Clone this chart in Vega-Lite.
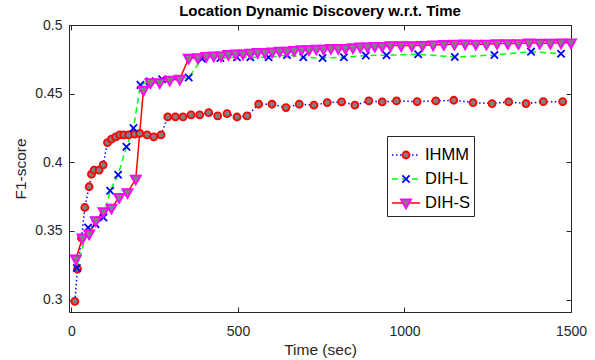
{
  "$schema": "https://vega.github.io/schema/vega-lite/v6.json",
  "width": 502,
  "height": 287,
  "autosize": {"type": "none"},
  "padding": {"left": 69, "top": 25, "right": 24, "bottom": 48},
  "background": "white",
  "title": {"text": "Location Dynamic Discovery w.r.t. Time", "fontSize": 15, "font": "Liberation Sans", "fontWeight": "bold", "color": "#000000", "anchor": "middle", "frame": "group", "baseline": "bottom", "offset": 1, "dy": 17},
  "config": {
    "view": {"stroke": null},
    "axis": {"domainColor": "#262626", "tickColor": "#262626", "labelColor": "#262626", "titleColor": "#262626", "labelFont": "Liberation Sans", "titleFont": "Liberation Sans", "labelFontSize": 14, "titleFontSize": 15.5, "titleFontWeight": "normal", "grid": false, "tickSize": -5, "domainWidth": 1, "tickWidth": 1, "labelFlush": false, "labelOverlap": false}
  },
  "data": {"values": [
    {"series": "IHMM", "t": 10, "f1": 0.2988}, {"series": "IHMM", "t": 18, "f1": 0.3223}, {"series": "IHMM", "t": 30, "f1": 0.3449}, {"series": "IHMM", "t": 40, "f1": 0.3671}, {"series": "IHMM", "t": 53, "f1": 0.3822}, {"series": "IHMM", "t": 60, "f1": 0.3914}, {"series": "IHMM", "t": 68, "f1": 0.3943}, {"series": "IHMM", "t": 83, "f1": 0.3943}, {"series": "IHMM", "t": 95, "f1": 0.3982}, {"series": "IHMM", "t": 108, "f1": 0.4144}, {"series": "IHMM", "t": 120, "f1": 0.4169}, {"series": "IHMM", "t": 133, "f1": 0.4185}, {"series": "IHMM", "t": 145, "f1": 0.42}, {"series": "IHMM", "t": 157, "f1": 0.42}, {"series": "IHMM", "t": 172, "f1": 0.42}, {"series": "IHMM", "t": 190, "f1": 0.4205}, {"series": "IHMM", "t": 205, "f1": 0.421}, {"series": "IHMM", "t": 227, "f1": 0.42}, {"series": "IHMM", "t": 247, "f1": 0.4185}, {"series": "IHMM", "t": 269, "f1": 0.42}, {"series": "IHMM", "t": 289, "f1": 0.4331}, {"series": "IHMM", "t": 312, "f1": 0.4331}, {"series": "IHMM", "t": 335, "f1": 0.4331}, {"series": "IHMM", "t": 359, "f1": 0.4345}, {"series": "IHMM", "t": 385, "f1": 0.4345}, {"series": "IHMM", "t": 412, "f1": 0.4362}, {"series": "IHMM", "t": 439, "f1": 0.4338}, {"series": "IHMM", "t": 467, "f1": 0.4355}, {"series": "IHMM", "t": 497, "f1": 0.433}, {"series": "IHMM", "t": 527, "f1": 0.4338}, {"series": "IHMM", "t": 562, "f1": 0.4423}, {"series": "IHMM", "t": 602, "f1": 0.4423}, {"series": "IHMM", "t": 644, "f1": 0.4399}, {"series": "IHMM", "t": 684, "f1": 0.4423}, {"series": "IHMM", "t": 728, "f1": 0.4416}, {"series": "IHMM", "t": 768, "f1": 0.4435}, {"series": "IHMM", "t": 811, "f1": 0.444}, {"series": "IHMM", "t": 851, "f1": 0.4416}, {"series": "IHMM", "t": 893, "f1": 0.4447}, {"series": "IHMM", "t": 933, "f1": 0.444}, {"series": "IHMM", "t": 976, "f1": 0.4447}, {"series": "IHMM", "t": 1038, "f1": 0.4442}, {"series": "IHMM", "t": 1094, "f1": 0.4447}, {"series": "IHMM", "t": 1148, "f1": 0.4452}, {"series": "IHMM", "t": 1206, "f1": 0.4435}, {"series": "IHMM", "t": 1263, "f1": 0.4428}, {"series": "IHMM", "t": 1313, "f1": 0.444}, {"series": "IHMM", "t": 1365, "f1": 0.4428}, {"series": "IHMM", "t": 1417, "f1": 0.4442}, {"series": "IHMM", "t": 1475, "f1": 0.4442},
    {"series": "DIH-L", "t": 16, "f1": 0.323}, {"series": "DIH-L", "t": 50, "f1": 0.3525}, {"series": "DIH-L", "t": 72, "f1": 0.355}, {"series": "DIH-L", "t": 96, "f1": 0.3599}, {"series": "DIH-L", "t": 116, "f1": 0.3793}, {"series": "DIH-L", "t": 140, "f1": 0.3909}, {"series": "DIH-L", "t": 165, "f1": 0.4113}, {"series": "DIH-L", "t": 186, "f1": 0.4249}, {"series": "DIH-L", "t": 207, "f1": 0.4564}, {"series": "DIH-L", "t": 235, "f1": 0.459}, {"series": "DIH-L", "t": 272, "f1": 0.4605}, {"series": "DIH-L", "t": 352, "f1": 0.4617}, {"series": "DIH-L", "t": 392, "f1": 0.4755}, {"series": "DIH-L", "t": 447, "f1": 0.476}, {"series": "DIH-L", "t": 497, "f1": 0.4765}, {"series": "DIH-L", "t": 537, "f1": 0.4765}, {"series": "DIH-L", "t": 592, "f1": 0.4765}, {"series": "DIH-L", "t": 647, "f1": 0.4782}, {"series": "DIH-L", "t": 696, "f1": 0.4765}, {"series": "DIH-L", "t": 754, "f1": 0.476}, {"series": "DIH-L", "t": 818, "f1": 0.4765}, {"series": "DIH-L", "t": 884, "f1": 0.4778}, {"series": "DIH-L", "t": 946, "f1": 0.478}, {"series": "DIH-L", "t": 1041, "f1": 0.4787}, {"series": "DIH-L", "t": 1151, "f1": 0.4767}, {"series": "DIH-L", "t": 1270, "f1": 0.4782}, {"series": "DIH-L", "t": 1380, "f1": 0.4806}, {"series": "DIH-L", "t": 1470, "f1": 0.4791},
    {"series": "DIH-S", "t": 13, "f1": 0.3296}, {"series": "DIH-S", "t": 33, "f1": 0.3449}, {"series": "DIH-S", "t": 53, "f1": 0.3478}, {"series": "DIH-S", "t": 73, "f1": 0.3575}, {"series": "DIH-S", "t": 96, "f1": 0.364}, {"series": "DIH-S", "t": 120, "f1": 0.3667}, {"series": "DIH-S", "t": 143, "f1": 0.3744}, {"series": "DIH-S", "t": 168, "f1": 0.378}, {"series": "DIH-S", "t": 193, "f1": 0.3878}, {"series": "DIH-S", "t": 216, "f1": 0.4525}, {"series": "DIH-S", "t": 237, "f1": 0.458}, {"series": "DIH-S", "t": 265, "f1": 0.458}, {"series": "DIH-S", "t": 295, "f1": 0.4598}, {"series": "DIH-S", "t": 325, "f1": 0.4605}, {"series": "DIH-S", "t": 352, "f1": 0.4758}, {"series": "DIH-S", "t": 379, "f1": 0.4762}, {"series": "DIH-S", "t": 405, "f1": 0.4772}, {"series": "DIH-S", "t": 427, "f1": 0.4775}, {"series": "DIH-S", "t": 449, "f1": 0.4775}, {"series": "DIH-S", "t": 471, "f1": 0.4785}, {"series": "DIH-S", "t": 493, "f1": 0.479}, {"series": "DIH-S", "t": 515, "f1": 0.479}, {"series": "DIH-S", "t": 537, "f1": 0.4795}, {"series": "DIH-S", "t": 559, "f1": 0.48}, {"series": "DIH-S", "t": 581, "f1": 0.48}, {"series": "DIH-S", "t": 603, "f1": 0.4805}, {"series": "DIH-S", "t": 625, "f1": 0.481}, {"series": "DIH-S", "t": 647, "f1": 0.481}, {"series": "DIH-S", "t": 669, "f1": 0.4815}, {"series": "DIH-S", "t": 691, "f1": 0.482}, {"series": "DIH-S", "t": 713, "f1": 0.482}, {"series": "DIH-S", "t": 735, "f1": 0.4825}, {"series": "DIH-S", "t": 757, "f1": 0.4825}, {"series": "DIH-S", "t": 779, "f1": 0.483}, {"series": "DIH-S", "t": 801, "f1": 0.483}, {"series": "DIH-S", "t": 823, "f1": 0.483}, {"series": "DIH-S", "t": 845, "f1": 0.4835}, {"series": "DIH-S", "t": 867, "f1": 0.484}, {"series": "DIH-S", "t": 889, "f1": 0.484}, {"series": "DIH-S", "t": 911, "f1": 0.4845}, {"series": "DIH-S", "t": 933, "f1": 0.4845}, {"series": "DIH-S", "t": 958, "f1": 0.485}, {"series": "DIH-S", "t": 990, "f1": 0.485}, {"series": "DIH-S", "t": 1022, "f1": 0.485}, {"series": "DIH-S", "t": 1054, "f1": 0.4852}, {"series": "DIH-S", "t": 1086, "f1": 0.4855}, {"series": "DIH-S", "t": 1118, "f1": 0.4858}, {"series": "DIH-S", "t": 1150, "f1": 0.486}, {"series": "DIH-S", "t": 1182, "f1": 0.4862}, {"series": "DIH-S", "t": 1214, "f1": 0.486}, {"series": "DIH-S", "t": 1246, "f1": 0.486}, {"series": "DIH-S", "t": 1278, "f1": 0.4865}, {"series": "DIH-S", "t": 1310, "f1": 0.4865}, {"series": "DIH-S", "t": 1342, "f1": 0.4865}, {"series": "DIH-S", "t": 1374, "f1": 0.487}, {"series": "DIH-S", "t": 1406, "f1": 0.4868}, {"series": "DIH-S", "t": 1438, "f1": 0.4868}, {"series": "DIH-S", "t": 1470, "f1": 0.487}, {"series": "DIH-S", "t": 1500, "f1": 0.487}
  ]},
  "layer": [
    {
      "mark": {"type": "line", "strokeWidth": 1.5},
      "encoding": {
        "x": {"field": "t", "type": "quantitative", "scale": {"domain": [-7.5, 1500], "nice": false, "zero": false}, "axis": {"orient": "bottom", "values": [0, 500, 1000, 1500], "format": "d", "title": "Time (sec)", "labelPadding": 17.5, "titlePadding": 4}},
        "y": {"field": "f1", "type": "quantitative", "scale": {"domain": [0.291, 0.5], "nice": false, "zero": false}, "axis": {"orient": "left", "values": [0.3, 0.35, 0.4, 0.45, 0.5], "format": "~g", "title": "F1-score", "labelPadding": 12, "titlePadding": 6}},
        "color": {"field": "series", "type": "nominal", "scale": {"domain": ["IHMM", "DIH-L", "DIH-S"], "range": ["#0000ff", "#00ff00", "#ff0000"]},
          "legend": {"orient": "none", "legendX": 318, "legendY": 111, "title": null, "symbolType": "stroke", "symbolSize": 784, "symbolStrokeWidth": 1.5, "labelFontSize": 16.5, "labelFont": "Liberation Sans", "labelColor": "#000000", "labelOffset": 4, "strokeColor": "#262626", "fillColor": "white", "padding": 4, "rowPadding": -3}},
        "strokeDash": {"field": "series", "type": "nominal", "scale": {"domain": ["IHMM", "DIH-L", "DIH-S"], "range": [[1.5, 2.5], [6, 4], [1, 0]]}}
      }
    },
    {
      "mark": {"type": "point", "opacity": 1, "strokeWidth": 1.8},
      "encoding": {
        "x": {"field": "t", "type": "quantitative", "scale": {"domain": [-7.5, 1500], "nice": false, "zero": false}, "axis": {"orient": "top", "values": [0, 500, 1000, 1500], "labels": false, "title": null}},
        "y": {"field": "f1", "type": "quantitative", "scale": {"domain": [0.291, 0.5], "nice": false, "zero": false}, "axis": {"orient": "right", "values": [0.3, 0.35, 0.4, 0.45, 0.5], "labels": false, "title": null}},
        "shape": {"field": "series", "type": "nominal", "sort": null, "scale": {"range": ["M-0.25,0A0.25,0.25 0 1,0 0.25,0A0.25,0.25 0 1,0 -0.25,0Z", "M-0.26,-0.26L0.26,0.26M-0.26,0.26L0.26,-0.26", "M-0.36,-0.25L0.36,-0.25L0,0.39Z"]},
          "legend": {"orient": "none", "legendX": 318, "legendY": 111, "title": null, "symbolSize": 784, "symbolStrokeWidth": 1.8, "labelFontSize": 16.5, "labelFont": "Liberation Sans", "labelOpacity": 0, "labelOffset": 4, "padding": 4, "rowPadding": -3}},
        "fill": {"field": "series", "type": "nominal", "sort": null, "scale": {"range": ["#808080", "transparent", "#808080"]}},
        "stroke": {"field": "series", "type": "nominal", "sort": null, "scale": {"range": ["#ff0000", "#0000ff", "#ff00ff"]}},
        "size": {"value": 784}
      }
    }
  ],
  "resolve": {"axis": {"x": "independent", "y": "independent"}}
}
